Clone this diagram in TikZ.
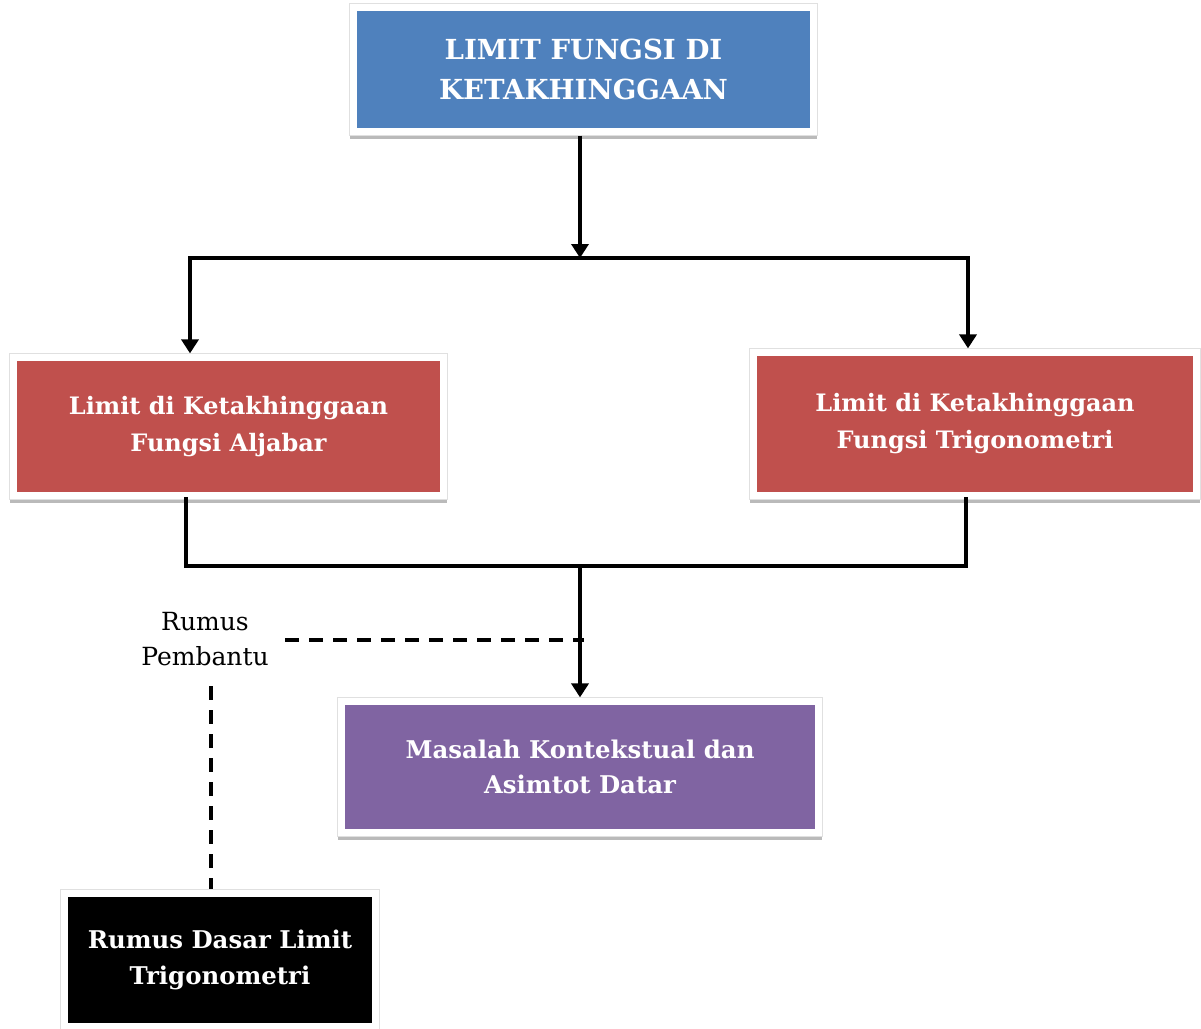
\documentclass[tikz,border=0pt]{standalone}
\usepackage{fontspec}
\setmainfont{DejaVu Serif}
\newfontfamily\boxfont{DejaVu Serif}[BoldFont={DejaVu Serif Bold}]
\usetikzlibrary{arrows.meta,shadows,fit,backgrounds,positioning}
\definecolor{cblue}{HTML}{4F81BD}
\definecolor{cred}{HTML}{C0504D}
\definecolor{cpurple}{HTML}{8064A2}
\tikzset{
  inbox/.style={rectangle, inner sep=0pt, text=white, align=center,
    font=\boxfont\bfseries\fontsize{24}{37}\selectfont},
  frame/.style={rectangle, fill=white, draw=black!12, line width=0.8pt, inner sep=7pt,
    drop shadow={shadow xshift=0pt, shadow yshift=-4pt, opacity=0.45, fill=black!60}},
  conn/.style={line width=4.3pt, line cap=rect},
  arr/.style={line width=4.3pt, -{Triangle[length=14pt,width=17pt]}},
  dashline/.style={line width=3.8pt, dash pattern=on 14pt off 10pt},
}
\begin{document}
\begin{tikzpicture}[x=1pt,y=-1pt]
\useasboundingbox (0,0) rectangle (1201,1028);
\node[inbox, fill=cblue, minimum width=453pt, minimum height=117pt,
  font=\boxfont\bfseries\fontsize{27.6}{40}\selectfont] (topc) at (583.5,69.5) {LIMIT FUNGSI DI\\KETAKHINGGAAN};
\node[inbox, fill=cred, minimum width=423pt, minimum height=131pt] (leftc) at (228.5,426.5) {Limit di Ketakhinggaan\\Fungsi Aljabar};
\node[inbox, fill=cred, minimum width=436pt, minimum height=136pt] (rightc) at (975,424) {Limit di Ketakhinggaan\\Fungsi Trigonometri};
\node[inbox, fill=cpurple, minimum width=470pt, minimum height=124pt,
  font=\boxfont\bfseries\fontsize{24.4}{35}\selectfont] (purc) at (580,767) {Masalah Kontekstual dan\\Asimtot Datar};
\node[inbox, fill=black, minimum width=304pt, minimum height=126pt,
  font=\boxfont\bfseries\fontsize{24.4}{36}\selectfont] (blkc) at (220,960) {Rumus Dasar Limit\\Trigonometri};
\node[align=center, font=\fontsize{25}{35}\selectfont] (rumus) at (205,639) {Rumus\\Pembantu};
\begin{scope}[on background layer]
  \node[frame, fit=(topc)] (top) {};
  \node[frame, fit=(leftc)] (left) {};
  \node[frame, fit=(rightc)] (right) {};
  \node[frame, fit=(purc)] (pur) {};
  \node[frame, fit=(blkc)] (blk) {};
\end{scope}
\coordinate (j1) at (580,258);
\coordinate (jl) at (190,258);
\coordinate (jr) at (968,258);
\coordinate (bl) at (186,566);
\coordinate (br) at (966,566);
\coordinate (j2) at (580,566);
\coordinate (d1) at (285,640);
\coordinate (d2) at (584,640);
\coordinate (v1) at (211,686);
\draw[arr] (j1 |- top.south) -- (j1);
\draw[conn] (jl) -- (jr);
\draw[arr] (jl) -- (jl |- left.north);
\draw[arr] (jr) -- (jr |- right.north);
\draw[conn] (bl |- left.south) -- (bl) -- (br) -- (br |- right.south);
\draw[arr] (j2) -- (j2 |- pur.north);
\draw[dashline] (d1) -- (d2);
\draw[dashline] (v1) -- (v1 |- blk.north);
\end{tikzpicture}
\end{document}
